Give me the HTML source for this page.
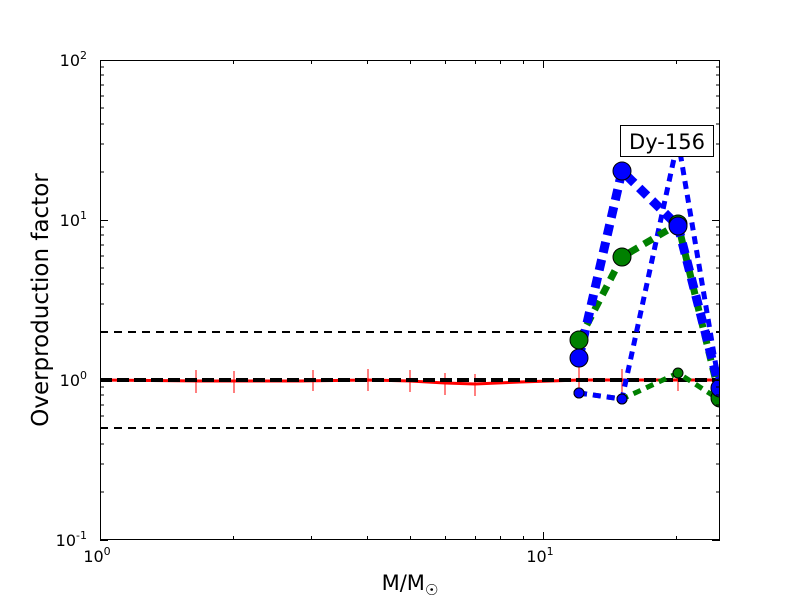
<!DOCTYPE html>
<html><head><style>body{margin:0;background:#fff}svg{display:block}</style></head><body>
<svg width="800" height="600" xmlns="http://www.w3.org/2000/svg" font-family="DejaVu Sans, sans-serif">
<rect width="800" height="600" fill="#fff"/>
<defs><clipPath id="c"><rect x="100" y="60" width="620" height="480"/></clipPath></defs>
<g clip-path="url(#c)">
<line x1="100" x2="720" y1="332" y2="332" stroke="#000" stroke-width="2" stroke-dasharray="8,6"/>
<line x1="100" x2="720" y1="428" y2="428" stroke="#000" stroke-width="2" stroke-dasharray="8,6"/>
<polyline points="100,380 200,381 300,381 368,380 410,381 445,383 475,384 520,382 580,380 720,380" fill="none" stroke="red" stroke-width="3"/>
<g stroke="red" stroke-width="1">
<line x1="196" x2="196" y1="370" y2="393"/><line x1="234" x2="234" y1="371" y2="393"/><line x1="313" x2="313" y1="370" y2="391"/><line x1="368" x2="368" y1="369" y2="391"/><line x1="410" x2="410" y1="370" y2="392"/><line x1="445" x2="445" y1="373" y2="395"/><line x1="475" x2="475" y1="374" y2="396"/><line x1="579" x2="579" y1="365" y2="395"/><line x1="622" x2="622" y1="369" y2="394"/><line x1="678" x2="678" y1="375" y2="391"/>
</g>
<line x1="100" x2="720" y1="380" y2="380" stroke="#000" stroke-width="4" stroke-dasharray="12,5"/>
<polyline points="579,393 622,399 678,373 720,400" fill="none" stroke="green" stroke-width="5" stroke-dasharray="8,6"/>
<polyline points="579,393 622,399 678,140 720,390" fill="none" stroke="blue" stroke-width="5" stroke-dasharray="8,6"/>
<polyline points="579,340 622,257 678,224 720,398" fill="none" stroke="green" stroke-width="7" stroke-dasharray="10,7"/>
<polyline points="579,358 622,171 678,226 720,390" fill="none" stroke="blue" stroke-width="9" stroke-dasharray="11,7"/>
<g stroke="#000" stroke-width="1">
<circle cx="579" cy="393" r="5" fill="green"/><circle cx="622" cy="399" r="5" fill="green"/><circle cx="678" cy="373" r="5" fill="green"/><circle cx="720" cy="400" r="5" fill="green"/>
<circle cx="579" cy="393" r="5" fill="blue"/><circle cx="622" cy="399" r="5" fill="blue"/><circle cx="720" cy="390" r="5" fill="blue"/>
<circle cx="579" cy="340" r="9" fill="green"/><circle cx="622" cy="257" r="9" fill="green"/><circle cx="678" cy="224" r="9" fill="green"/><circle cx="720" cy="398" r="9" fill="green"/>
<circle cx="579" cy="358" r="9" fill="blue"/><circle cx="622" cy="171" r="9" fill="blue"/><circle cx="678" cy="226" r="9" fill="blue"/><circle cx="720" cy="388" r="9" fill="blue"/>
</g>
</g>
<rect x="620.5" y="125.5" width="93" height="31" fill="#fff" stroke="#000"/>
<text x="667" y="149" font-size="21" text-anchor="middle">Dy-156</text>
<rect x="100.5" y="60.5" width="619" height="479" fill="none" stroke="#000"/>
<g stroke="#000" stroke-width="1">
<line x1="100.5" x2="100.5" y1="540" y2="532"/><line x1="543.5" x2="543.5" y1="540" y2="532"/>
<line x1="100.5" x2="100.5" y1="60" y2="68"/><line x1="543.5" x2="543.5" y1="60" y2="68"/>
<path d="M233.5 540v-4M311.5 540v-4M367.5 540v-4M410.5 540v-4M445.5 540v-4M475.5 540v-4M500.5 540v-4M523.5 540v-4M676.5 540v-4
M233.5 60v4M311.5 60v4M367.5 60v4M410.5 60v4M445.5 60v4M475.5 60v4M500.5 60v4M523.5 60v4M676.5 60v4"/>
<path d="M100 540.5h8M100 380.5h8M100 220.5h8M100 60.5h8M720 540.5h-8M720 380.5h-8M720 220.5h-8M720 60.5h-8"/>
<path d="M100 492h4M100 464h4M100 444h4M100 428h4M100 416h4M100 405h4M100 395h4M100 387h4M720 492h-4M720 464h-4M720 444h-4M720 428h-4M720 416h-4M720 405h-4M720 395h-4M720 387h-4"/>
<path d="M100 332h4M100 304h4M100 284h4M100 268h4M100 256h4M100 245h4M100 235h4M100 227h4M720 332h-4M720 304h-4M720 284h-4M720 268h-4M720 256h-4M720 245h-4M720 235h-4M720 227h-4"/>
<path d="M100 172h4M100 144h4M100 124h4M100 108h4M100 96h4M100 85h4M100 75h4M100 67h4M720 172h-4M720 144h-4M720 124h-4M720 108h-4M720 96h-4M720 85h-4M720 75h-4M720 67h-4"/>
</g>
<g font-size="16" text-anchor="end">
<text x="87" y="546">10<tspan font-size="11" dy="-7">-1</tspan></text>
<text x="87" y="386">10<tspan font-size="11" dy="-7">0</tspan></text>
<text x="87" y="226">10<tspan font-size="11" dy="-7">1</tspan></text>
<text x="87" y="66">10<tspan font-size="11" dy="-7">2</tspan></text>
</g>
<g font-size="16" text-anchor="middle">
<text x="97" y="562">10<tspan font-size="11" dy="-7">0</tspan></text>
<text x="540" y="562">10<tspan font-size="11" dy="-7">1</tspan></text>
</g>
<text x="410" y="590" font-size="21" text-anchor="middle">M/M<tspan font-size="15" dy="5">☉</tspan></text>
<text transform="translate(48,300) rotate(-90)" font-size="23" text-anchor="middle">Overproduction factor</text>
</svg>
</body></html>
